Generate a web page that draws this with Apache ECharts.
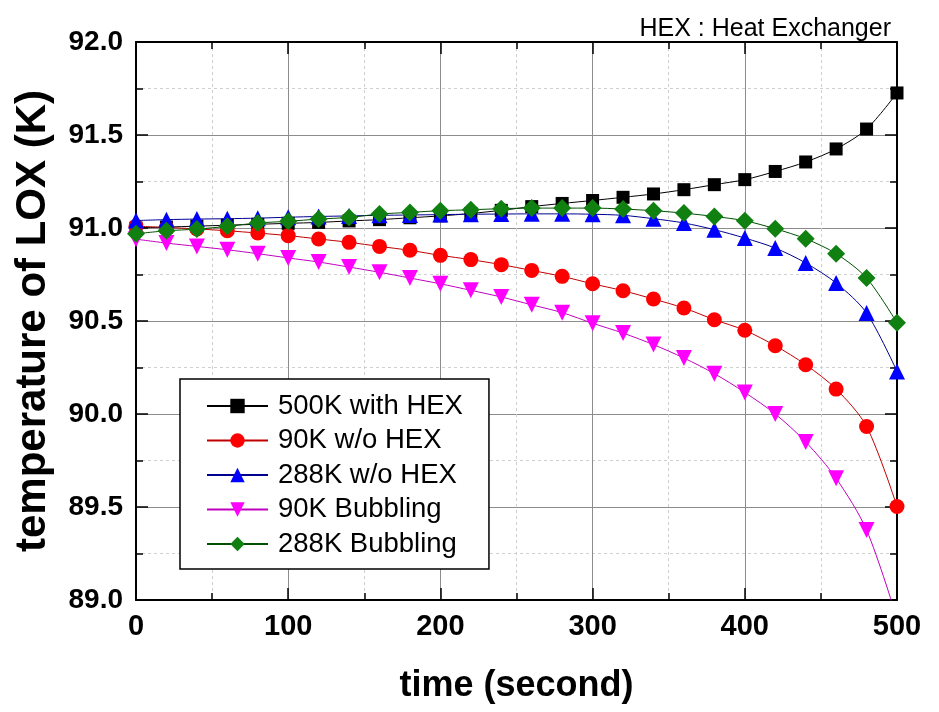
<!DOCTYPE html>
<html>
<head>
<meta charset="utf-8">
<script src="https://cdn.jsdelivr.net/npm/echarts@6/dist/echarts.min.js"></script>
<style>
html,body{margin:0;padding:0;background:#fff;}
#c{width:939px;height:712px;}
</style>
</head>
<body>
<div id="c"></div>
<script>
const timeSec = [0,20,40,60,80,100,120,140,160,180,200,220,240,260,280,300,320,340,360,380,400,420,440,460,480,500];
const hex500 = [91.00,91.005,91.01,91.015,91.02,91.025,91.03,91.038,91.045,91.055,91.065,91.078,91.095,91.115,91.132,91.148,91.165,91.183,91.206,91.233,91.26,91.304,91.355,91.425,91.532,91.726];
const woHex90 = [91.01,91.003,90.995,90.985,90.973,90.959,90.941,90.923,90.901,90.88,90.853,90.83,90.803,90.772,90.74,90.70,90.663,90.618,90.57,90.507,90.45,90.367,90.265,90.134,89.933,89.503];
const woHex288 = [91.04,91.045,91.048,91.05,91.053,91.058,91.062,91.065,91.068,91.07,91.072,91.074,91.075,91.076,91.076,91.074,91.068,91.05,91.027,90.991,90.946,90.892,90.812,90.704,90.543,90.229];
const bubbling90 = [90.94,90.919,90.901,90.883,90.862,90.839,90.817,90.79,90.762,90.731,90.70,90.665,90.629,90.587,90.545,90.488,90.435,90.373,90.301,90.217,90.116,90.0,89.85,89.654,89.376,88.9];
const bubbling288 = [90.969,90.985,90.994,91.009,91.027,91.036,91.048,91.057,91.075,91.084,91.093,91.098,91.104,91.107,91.107,91.107,91.102,91.093,91.08,91.062,91.039,90.996,90.942,90.862,90.731,90.49];
const seriesNames = ['500K with HEX','90K w/o HEX','288K w/o HEX','90K Bubbling','288K Bubbling'];
const xTicks = [0,100,200,300,400,500];
const yTicks = [89.0,89.5,90.0,90.5,91.0,91.5,92.0];

const chart = echarts.init(document.getElementById('c'));
function pairs(arr){ return timeSec.map((t,i)=>[t,arr[i]]); }
function mkX(pos, show){
  return {
    type:'value', position:pos, min:xTicks[0], max:xTicks[xTicks.length-1], interval:100,
    axisLine:{show:true, onZero:false, lineStyle:{color:'#000', width:2}},
    axisTick:{show:true, inside:true, length:12, lineStyle:{color:'#000', width:1.5}},
    minorTick:{show:true, splitNumber:2, length:7, lineStyle:{color:'#000', width:1.5}},
    splitLine:{show:show, lineStyle:{color:'#8c8c8c', width:1}},
    minorSplitLine:{show:show, lineStyle:{color:'#cfcfcf', width:1, type:[3,3]}},
    axisLabel:{show:show, margin:12, fontFamily:'Liberation Sans', fontWeight:'bold', fontSize:29, color:'#000'},
    name: show ? 'time (second)' : '',
    nameLocation:'middle', nameGap:68,
    nameTextStyle:{fontFamily:'Liberation Sans', fontWeight:'bold', fontSize:36, color:'#000'}
  };
}
function mkY(pos, show){
  return {
    type:'value', position:pos, min:yTicks[0], max:yTicks[yTicks.length-1], interval:0.5,
    axisLine:{show:true, onZero:false, lineStyle:{color:'#000', width:2}},
    axisTick:{show:true, inside:true, length:12, lineStyle:{color:'#000', width:1.5}},
    minorTick:{show:true, splitNumber:2, length:7, lineStyle:{color:'#000', width:1.5}},
    splitLine:{show:show, lineStyle:{color:'#8c8c8c', width:1}},
    minorSplitLine:{show:show, lineStyle:{color:'#cfcfcf', width:1, type:[3,3]}},
    axisLabel:{show:show, margin:13, formatter:v=>v.toFixed(1), fontFamily:'Liberation Sans', fontWeight:'bold', fontSize:28, color:'#000'},
    name: show ? 'temperature of LOX (K)' : '',
    nameLocation:'middle', nameGap:82, nameRotate:90,
    nameTextStyle:{fontFamily:'Liberation Sans', fontWeight:'bold', fontSize:42, color:'#000'}
  };
}
const styles = [
  {sym:'rect', color:'#000000', line:'#000000', size:13, rot:0},
  {sym:'circle', color:'#ff0000', line:'#c00000', size:15, rot:0},
  {sym:'triangle', color:'#0000ff', line:'#000090', size:16, rot:0},
  {sym:'triangle', color:'#ff00ff', line:'#c000c0', size:16, rot:180},
  {sym:'diamond', color:'#108010', line:'#005000', size:18, rot:0}
];
const datas = [hex500, woHex90, woHex288, bubbling90, bubbling288];
const series = datas.map((d,i)=>({
  name:seriesNames[i], type:'line', data:pairs(d), smooth:0.3,
  symbol:styles[i].sym, symbolSize:styles[i].size, symbolRotate:styles[i].rot,
  showAllSymbol:true, clip:true, z:2+i,
  lineStyle:{color:styles[i].line, width:1},
  itemStyle:{color:styles[i].color, borderWidth:0},
  emphasis:{disabled:true}, animation:false
}));
chart.setOption({
  animation:false,
  backgroundColor:'#fff',
  grid:{left:136, right:42, top:42, bottom:112, containLabel:false},
  xAxis:[mkX('bottom', true), mkX('top', false)],
  yAxis:[mkY('left', true), mkY('right', false)],
  legend:{
    show:true, orient:'vertical', left:180, top:379,
    backgroundColor:'#fff', borderColor:'#000', borderWidth:1.5, borderRadius:0,
    padding:[12, 26, 10, 26],
    itemWidth:61, itemHeight:18, itemGap:4.5,
    textStyle:{fontFamily:'Liberation Sans', fontSize:27.5, color:'#000', lineHeight:30, padding:[0,0,0,5]},
    data:seriesNames
  },
  graphic:[{
    type:'text', right:48, top:17,
    style:{text:'HEX : Heat Exchanger', font:'25px "Liberation Sans"', fill:'#000'}
  }],
  series:series
});
</script>
</body>
</html>
